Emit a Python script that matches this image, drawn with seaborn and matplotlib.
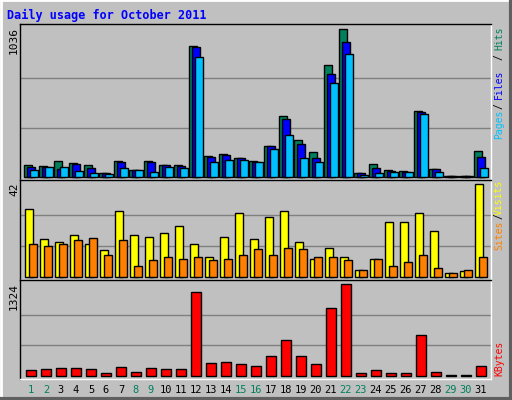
import numpy as np
import matplotlib
matplotlib.use('Agg')
import matplotlib.pyplot as plt
import seaborn as sns
from matplotlib.lines import Line2D

days = np.arange(1, 32)
hits = [82, 75, 110, 94, 82, 26, 110, 47, 110, 82, 82, 919, 145, 159, 131, 110,
        216, 427, 258, 173, 785, 1036, 26, 89, 47, 40, 462, 54, 5, 5, 180]
files = [66, 70, 54, 89, 61, 26, 103, 47, 103, 82, 75, 912, 138, 152, 129, 105,
         216, 405, 230, 131, 722, 947, 26, 61, 42, 35, 455, 54, 5, 5, 138]
pages = [47, 68, 68, 40, 26, 19, 61, 47, 33, 68, 61, 841, 103, 117, 117, 103,
         195, 293, 131, 103, 659, 863, 12, 26, 33, 33, 441, 33, 5, 5, 61]
visits = [31, 17, 16, 19, 15, 12, 30, 19, 18, 20, 23, 15, 9, 18, 29, 17,
          27, 30, 16, 8, 13, 9, 3, 8, 25, 25, 29, 21, 1.5, 2.4, 42]
sites = [15, 14, 15, 16.5, 17.4, 10, 16.5, 5, 7.4, 9, 8, 9, 7.4, 8, 10, 12.4,
         10, 13, 12.4, 9, 9, 7.4, 3, 8, 5, 6.5, 10, 4, 1.5, 3, 9]
kbytes = [77, 92, 106, 106, 92, 34, 121, 48, 106, 92, 92, 1208, 179, 193, 164, 135,
          280, 512, 280, 164, 976, 1324, 34, 77, 34, 34, 585, 48, 15, 15, 135]
weekend = [1, 2, 8, 9, 15, 16, 22, 23, 29, 30]

BG = '#C0C0C0'
sns.set_style('white')
plt.rcParams['font.family'] = ['DejaVu Sans Mono']

fig = plt.figure(figsize=(5.12, 4.0), dpi=100, facecolor=BG)

def px_axes(top, bottom):
    return fig.add_axes([20/512, (400-bottom)/400, 471/512, (bottom-top)/400])

ax1 = px_axes(24, 180)
ax2 = px_axes(180, 280)
ax3 = px_axes(280, 379)

def bars(ax, vals, off, w, color):
    sns.barplot(x=days + off, y=vals, native_scale=True, orient='x', width=w,
                color=color, saturation=1, edgecolor='black', linewidth=1,
                ax=ax, zorder=3)

bars(ax1, hits, -0.2, 0.53, '#00805C')
bars(ax1, files, 0.0, 0.53, '#0000FF')
bars(ax1, pages, 0.2, 0.53, '#00C0FF')
bars(ax2, visits, -0.13, 0.5, '#FFFF00')
bars(ax2, sites, 0.13, 0.5, '#FF8000')
bars(ax3, kbytes, 0.0, 0.67, '#FF0000')

for ax, mx, lo, hi in [(ax1, 1036, -23, 1073), (ax2, 42, -1.5, 44), (ax3, 1324, -48, 1386)]:
    ax.set_facecolor(BG)
    ax.set_xlim(0.27, 31.67)
    ax.set_ylim(lo, hi)
    for g in (mx/3, 2*mx/3):
        ax.axhline(g, color='#808080', lw=1, zorder=1)
    ax.set_yticks([])
    ax.set_xticks([])
    ax.set_xlabel('')
    ax.set_ylabel('')
    for s in ('top', 'left'):
        ax.spines[s].set_color('black')
    for s in ('bottom', 'right'):
        ax.spines[s].set_color('white')
    for s in ax.spines.values():
        s.set_linewidth(1)

ax3.set_xticks(days)
ax3.set_xticklabels([str(d) for d in days], fontsize=7.5)
ax3.tick_params(axis='x', length=0, pad=4)
for lab, d in zip(ax3.get_xticklabels(), days):
    lab.set_color('#00805C' if d in weekend else 'black')

def ft(x, y, s, color, **kw):
    fig.text(x/512, 1 - y/400, s, color=color, **kw)

ft(7, 15, 'Daily usage for October 2011', '#0000FF', fontsize=8.5,
   fontweight='bold', va='center')
ft(14, 27, '1036', 'black', fontsize=8, rotation=90, ha='center', va='top')
ft(14, 182, '42', 'black', fontsize=8, rotation=90, ha='center', va='top')
ft(14, 283, '1324', 'black', fontsize=8, rotation=90, ha='center', va='top')

for y, s, c in [(38, 'Hits', '#00805C'), (57, '/', 'black'), (84, 'Files', '#0000FF'),
                (106, '/', 'black'), (124, 'Pages', '#00C0FF'),
                (197, 'Visits', '#FFFF00'), (216, '/', 'black'), (235, 'Sites', '#FF8000'),
                (358, 'KBytes', '#FF0000')]:
    ft(499, y, s, c, fontsize=7, rotation=90, ha='center', va='center')

# bevel border
fig.add_artist(Line2D([0, 1], [0.999, 0.999], color='white', lw=2, transform=fig.transFigure))
fig.add_artist(Line2D([0.001, 0.001], [0, 1], color='white', lw=2, transform=fig.transFigure))
fig.add_artist(Line2D([0, 1], [0.002, 0.002], color='#606060', lw=3, transform=fig.transFigure))
fig.add_artist(Line2D([0.998, 0.998], [0, 1], color='#606060', lw=3, transform=fig.transFigure))

fig.savefig('out.png', dpi=100, facecolor=BG)
